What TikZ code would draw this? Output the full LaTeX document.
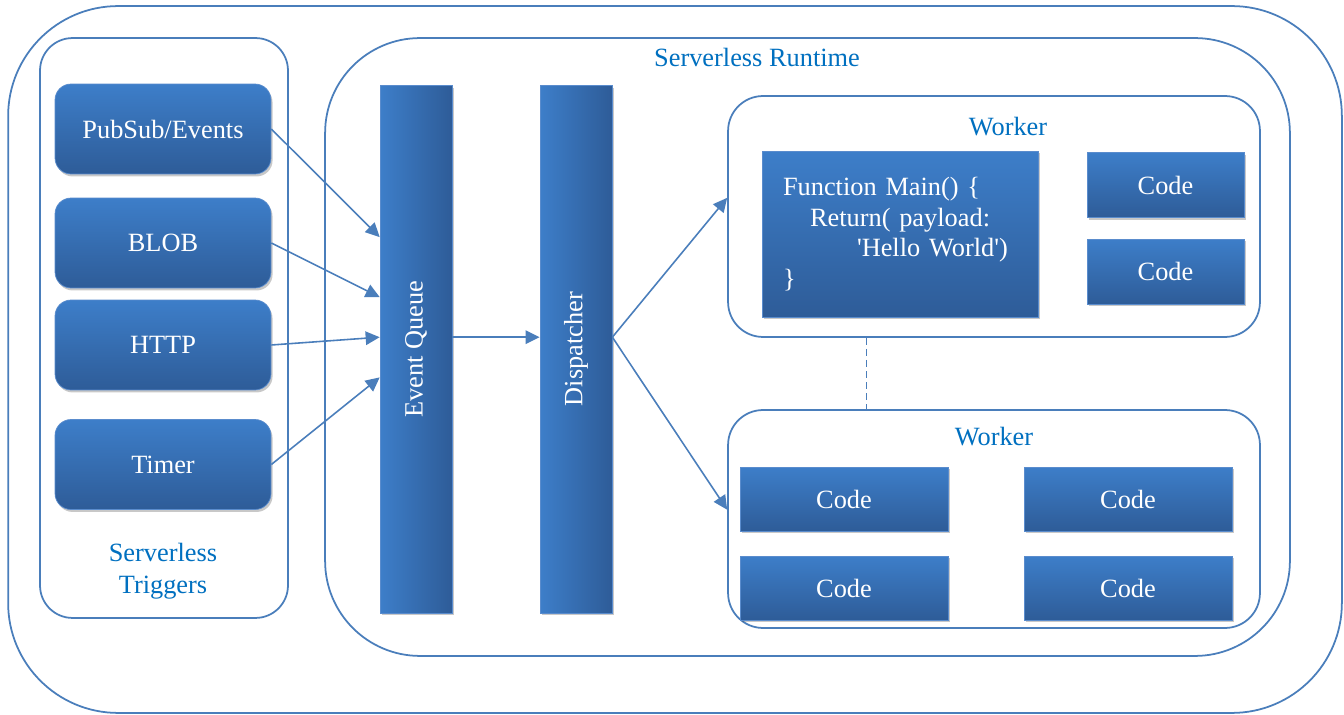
\documentclass[tikz,border=0pt]{standalone}
\usepackage{fontspec}
\setmainfont{Liberation Serif}
\usepackage{xcolor}
\usepackage{tikz}
\usetikzlibrary{positioning,calc,shadows,arrows.meta}

\definecolor{linec}{RGB}{74,126,187}
\definecolor{boxtop}{RGB}{61,126,201}
\definecolor{boxbot}{RGB}{46,92,152}
\definecolor{boxedge}{RGB}{90,140,205}
\definecolor{lblue}{RGB}{0,112,192}

\newcommand{\diagfont}{\fontsize{15}{17.5}\selectfont}

\tikzset{
  panel/.style={draw=linec, line width=1pt, fill=white, rounded corners=#1},
  softshadow/.style={drop shadow={shadow xshift=0.9pt, shadow yshift=-1.4pt, opacity=0.3, fill=black!70}},
  trig/.style={draw=boxedge, line width=0.4pt, rounded corners=0.32cm, top color=boxtop, bottom color=boxbot,
    text=white, font=\diagfont, minimum width=4.32cm, minimum height=1.8cm, softshadow},
  bar/.style={draw=boxedge, line width=0.4pt, left color=boxtop, right color=boxbot,
    text=white, font=\diagfont, minimum width=1.44cm, minimum height=10.56cm, softshadow},
  codebox/.style={draw=boxedge, line width=0.4pt, top color=boxtop, bottom color=boxbot,
    text=white, font=\diagfont, softshadow},
  lbl/.style={text=lblue, font=\diagfont},
  conn/.style={draw=linec, line width=0.9pt, -{Triangle[length=0.28cm,width=0.27cm]}},
}

\begin{document}
\begin{tikzpicture}[x=0.02cm, y=-0.02cm]
\useasboundingbox (0,0) rectangle (1344,715);

% containers
\node[panel=2.2cm, minimum width=26.68cm, minimum height=14.14cm] (outer) at (675,359.5) {};
\node[panel=0.65cm, minimum width=4.96cm, minimum height=11.6cm] (triggers) at (164,328) {};
\node[panel=1.9cm, minimum width=19.3cm, minimum height=12.36cm] (runtime) at (807.5,347) {};
\node[panel=0.7cm, minimum width=10.64cm, minimum height=4.82cm] (w1) at (994,216.5) {};
\node[panel=0.7cm, minimum width=10.64cm, minimum height=4.36cm] (w2) at (994,519) {};

\node[lbl] (rtlabel) at (757,57) {Serverless Runtime};
\node[lbl] (w1label) at (1008,127) {Worker};
\node[lbl] (w2label) at (994,437) {Worker};
\node[lbl, align=center, font=\fontsize{15}{18}\selectfont] (trlabel) at (163,571) {Serverless\\Triggers};

% triggers
\node[trig] (pubsub) at (163,129) {PubSub/Events};
\node[trig] (blob) at (163,243) {BLOB};
\node[trig] (http) at (163,345) {HTTP};
\node[trig] (timer) at (163,464.5) {Timer};

% queue and dispatcher
\node[bar] (eq) at (416,349) {\rotatebox{90}{Event Queue}};
\node[bar] (disp) at (576,349) {\rotatebox{90}{Dispatcher}};

% first worker
\node[codebox, minimum width=5.52cm, minimum height=3.32cm, text width=4.68cm, align=left] (func) at (900,234)
  {Function Main() \{\\
   \hspace*{0.54cm}Return( payload:\\
   \hspace*{1.48cm}\textquotesingle Hello World\textquotesingle)\\
   \}};
\node[codebox, minimum width=3.14cm, minimum height=1.3cm] (c1) at (1165.5,185) {Code};
\node[codebox, minimum width=3.14cm, minimum height=1.3cm] (c2) at (1165.5,271.5) {Code};

% second worker
\node[codebox, minimum width=4.16cm, minimum height=1.28cm] (c3) at (844,499) {Code};
\node[codebox, minimum width=4.16cm, minimum height=1.28cm] (c4) at (1128,499) {Code};
\node[codebox, minimum width=4.16cm, minimum height=1.28cm] (c5) at (844,588) {Code};
\node[codebox, minimum width=4.16cm, minimum height=1.28cm] (c6) at (1128,588) {Code};

% connectors
\draw[conn] (pubsub.east) -- (eq.108);
\draw[conn] (blob.east) -- (eq.125);
\draw[conn] (http.east) -- (eq.162);
\draw[conn] (timer.east) -- (eq.218);
\draw[conn] (eq.18) -- (eq.18 -| disp.west);
\draw[conn] (disp.18) -- (w1.176);
\draw[conn] (disp.18) -- (w2.178);
\draw[draw=linec, line width=1.1pt, dash pattern=on 4pt off 2.3pt]
  ($(w1.south west)!0.261!(w1.south east)$) -- ($(w2.north west)!0.261!(w2.north east)$);
\end{tikzpicture}
\end{document}
